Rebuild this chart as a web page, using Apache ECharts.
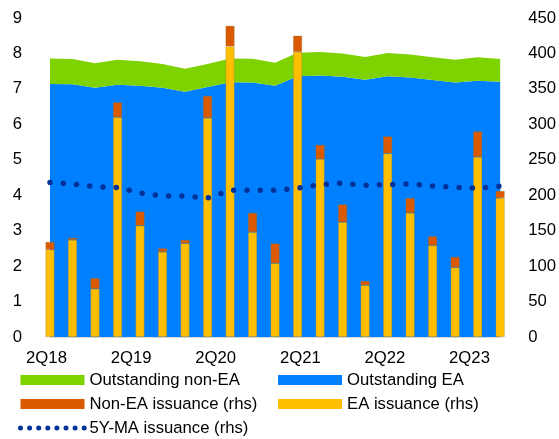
<!DOCTYPE html>
<html>
<head>
<meta charset="utf-8">
<script src="https://cdn.jsdelivr.net/npm/echarts@6/dist/echarts.min.js"></script>
<style>
  html, body { margin: 0; padding: 0; background: #fff; }
  #chart { width: 559px; height: 439px; }
</style>
</head>
<body>
<div id="chart"></div>
<script>
// quarters 2Q18 - 2Q23
var quarters = ['2Q18','3Q18','4Q18','1Q19','2Q19','3Q19','4Q19','1Q20','2Q20','3Q20','4Q20',
                '1Q21','2Q21','3Q21','4Q21','1Q22','2Q22','3Q22','4Q22','1Q23','2Q23'];

// outstanding (lhs)
var outstandingEA    = [7.14,7.13,7.03,7.12,7.09,7.03,6.92,7.05,7.19,7.18,7.09,7.36,7.38,7.34,7.26,7.36,7.32,7.25,7.18,7.23,7.20];
var outstandingNonEA = [0.72,0.71,0.69,0.70,0.69,0.67,0.65,0.65,0.67,0.67,0.65,0.66,0.66,0.66,0.64,0.65,0.65,0.64,0.64,0.66,0.64];

// issuance (rhs)
var issuanceEA    = [123,137,68,310,157,120,132,309,410,148,104,402,251,162,73,259,175,129,98,254,196];
var issuanceNonEA = [11,3,15,21,20,5,5,31,29,27,28,23,20,25,6,24,21,13,15,36,10];
var ma5y          = [218,216,212,211,203,199,199,196,207,207,207,210,215,217,214,215,216,213,211,210,213];

var leftTicks  = { min: 0, max: 9, interval: 1 };
var rightTicks = { min: 0, max: 450, interval: 50 };

var font = 'Liberation Sans, Arial, sans-serif';
var fs = 16.7;

var myChart = echarts.init(document.getElementById('chart'));

var legendText = { fontSize: fs, color: '#000', fontFamily: font, lineHeight: 18 };
var noBorder = { borderWidth: 0 };

var option = {
  animation: false,
  grid: [
    { left: 50, right: 57, top: 18, bottom: 102 },
    // only used to place the date labels
    { left: 46.5, right: 89.5, top: 18, bottom: 102 }
  ],
  legend: [
    {
      orient: 'vertical', left: 18, top: 371, padding: 0,
      itemWidth: 64, itemHeight: 10, itemGap: 6, itemTextGap: 6,
      selectedMode: false, textStyle: legendText,
      data: [
        { name: 'Outstanding non-EA', icon: 'rect', itemStyle: noBorder },
        { name: 'Non-EA issuance (rhs)', icon: 'rect', itemStyle: noBorder },
        { name: '5Y-MA issuance (rhs)',
          itemStyle: { color: 'rgba(0,0,0,0)', borderWidth: 0 },
          lineStyle: { width: 5, type: [0, 9.1], cap: 'round', color: '#003299' } }
      ]
    },
    {
      orient: 'vertical', left: 278, top: 371, padding: 0,
      itemWidth: 64, itemHeight: 10, itemGap: 6, itemTextGap: 6,
      selectedMode: false, textStyle: legendText,
      data: [
        { name: 'Outstanding EA', icon: 'rect', itemStyle: noBorder },
        { name: 'EA issuance (rhs)', icon: 'rect', itemStyle: noBorder }
      ]
    }
  ],
  xAxis: [
    {
      type: 'category', gridIndex: 0, data: quarters, boundaryGap: false,
      axisLine: { lineStyle: { color: '#d9d9d9' } },
      axisTick: { show: false },
      axisLabel: { show: false }
    },
    {
      type: 'category', gridIndex: 1, data: quarters, boundaryGap: false,
      axisLine: { show: false },
      axisTick: { show: false },
      axisLabel: { interval: 3, fontSize: fs, color: '#000', fontFamily: font, margin: 13 }
    }
  ],
  yAxis: [
    {
      type: 'value', gridIndex: 0, min: leftTicks.min, max: leftTicks.max, interval: leftTicks.interval,
      splitLine: { show: false }, axisLine: { show: false }, axisTick: { show: false },
      axisLabel: { fontSize: fs, color: '#000', fontFamily: font, margin: 28 }
    },
    {
      type: 'value', gridIndex: 0, position: 'right',
      min: rightTicks.min, max: rightTicks.max, interval: rightTicks.interval,
      splitLine: { show: false }, axisLine: { show: false }, axisTick: { show: false },
      axisLabel: { fontSize: fs, color: '#000', fontFamily: font, margin: 28 }
    },
    { type: 'value', gridIndex: 1, show: false }
  ],
  series: [
    {
      name: 'Outstanding EA', type: 'line', stack: 'out', data: outstandingEA,
      symbol: 'none', lineStyle: { width: 0 },
      itemStyle: { color: '#0080ff' },
      areaStyle: { color: '#0080ff', opacity: 1 }, z: 1
    },
    {
      name: 'Outstanding non-EA', type: 'line', stack: 'out', data: outstandingNonEA,
      symbol: 'none', lineStyle: { width: 0 },
      itemStyle: { color: '#7dd200' },
      areaStyle: { color: '#7dd200', opacity: 1 }, z: 1
    },
    {
      name: 'EA issuance (rhs)', type: 'bar', stack: 'iss', yAxisIndex: 1, data: issuanceEA,
      barWidth: 9, clip: false,
      itemStyle: { color: '#ffbf00', borderColor: 'rgba(140,120,70,0.5)', borderWidth: 0.6 }, z: 2
    },
    {
      name: 'Non-EA issuance (rhs)', type: 'bar', stack: 'iss', yAxisIndex: 1, data: issuanceNonEA,
      barWidth: 9, clip: false,
      itemStyle: { color: '#db5a00', borderColor: 'rgba(140,120,70,0.5)', borderWidth: 0.6 }, z: 2
    },
    {
      name: '5Y-MA issuance (rhs)', type: 'line', yAxisIndex: 1, data: ma5y,
      symbol: 'none', itemStyle: { color: '#003299' },
      lineStyle: { color: '#003299', width: 5.5, type: [0, 13.3], cap: 'round' }, z: 3
    }
  ]
};

myChart.setOption(option);
</script>
</body>
</html>
